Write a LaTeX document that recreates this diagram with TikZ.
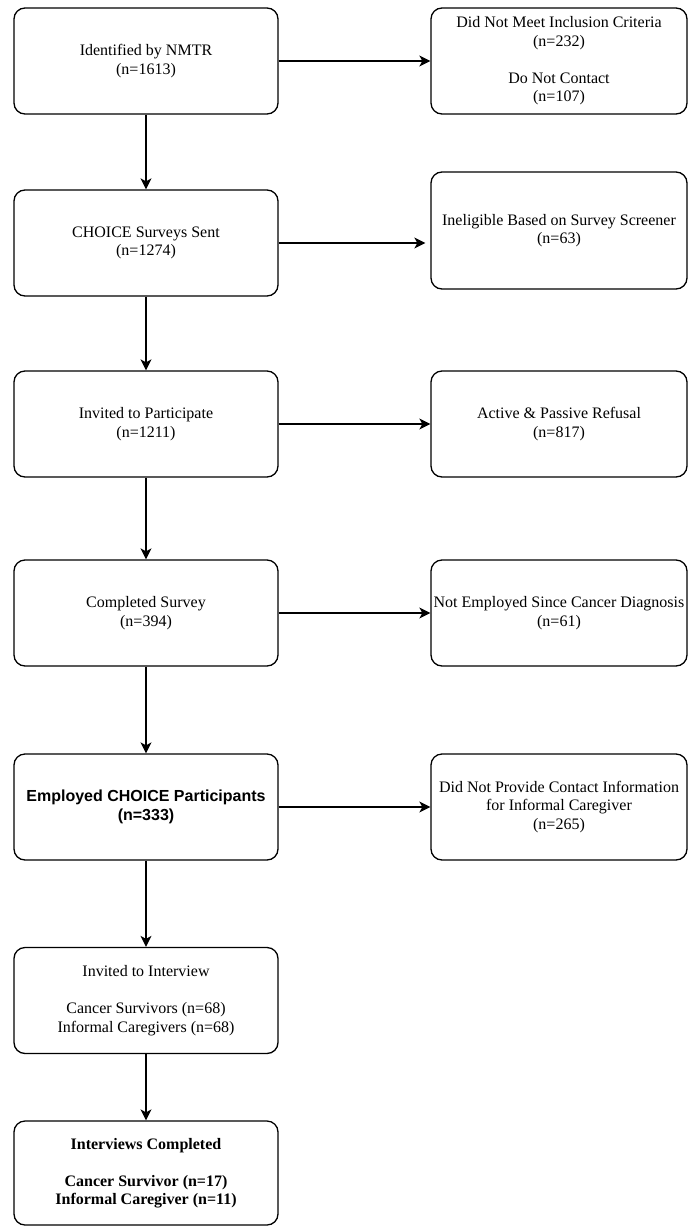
\documentclass[tikz,border=0pt]{standalone}
\usepackage{fontspec}
\setmainfont{Liberation Serif}
\newfontfamily\sansbold{Liberation Sans}
\usetikzlibrary{arrows.meta}

\begin{document}
\begin{tikzpicture}
    [x=1pt, y=-1pt,
     box/.style={rectangle, rounded corners=11pt, draw, line width=1.3pt, align=center,
                 font=\fontsize{16}{18.5}\selectfont, inner sep=0pt},
     left/.style={box, minimum width=264pt, minimum height=106pt},
     side/.style={box, minimum width=256pt, minimum height=106pt},
     flow/.style={line width=1.3pt, -{Stealth[length=11pt, width=11pt, inset=3pt]}}]
    \useasboundingbox (0,0) rectangle (688,1226);

    \node[left] (A) at (146,61) {Identified by NMTR\\(n=1613)};
    \node[left] (B) at (146,243) {CHOICE Surveys Sent\\(n=1274)};
    \node[left] (C) at (146,424) {Invited to Participate\\(n=1211)};
    \node[left] (D) at (146,613) {Completed Survey\\(n=394)};
    \node[left] (E) at (146,807) {\sansbold\bfseries Employed CHOICE Participants\\\sansbold\bfseries (n=333)};
    \node[left] (F) at (146,1000.5) {Invited to Interview\\[18.5pt]Cancer Survivors (n=68)\\Informal Caregivers (n=68)};
    \node[left, minimum height=104pt] (G) at (146,1173) {\bfseries Interviews Completed\\[18.5pt]\bfseries Cancer Survivor (n=17)\\\bfseries Informal Caregiver (n=11)};

    \node[side] (R1) at (559,61) {Did Not Meet Inclusion Criteria\\(n=232)\\[18.5pt]Do Not Contact\\(n=107)};
    \node[side, minimum height=117pt] (R2) at (559,230.5) {Ineligible Based on Survey Screener\\(n=63)};
    \node[side] (R3) at (559,424) {Active \& Passive Refusal\\(n=817)};
    \node[side] (R4) at (559,613) {Not Employed Since Cancer Diagnosis\\(n=61)};
    \node[side] (R5) at (559,807) {Did Not Provide Contact Information\\for Informal Caregiver\\(n=265)};

    \draw[flow] (A) -- (B);
    \draw[flow] (B) -- (C);
    \draw[flow] (C) -- (D);
    \draw[flow] (D) -- (E);
    \draw[flow] (E) -- (F);
    \draw[flow] (F) -- (G);

    \draw[flow] (A) -- (R1);
    \draw[flow, shorten >=5pt] (B.east) -- (B.east -| R2.west);
    \draw[flow] (C) -- (R3);
    \draw[flow] (D) -- (R4);
    \draw[flow] (E) -- (R5);

\end{tikzpicture}
\end{document}
